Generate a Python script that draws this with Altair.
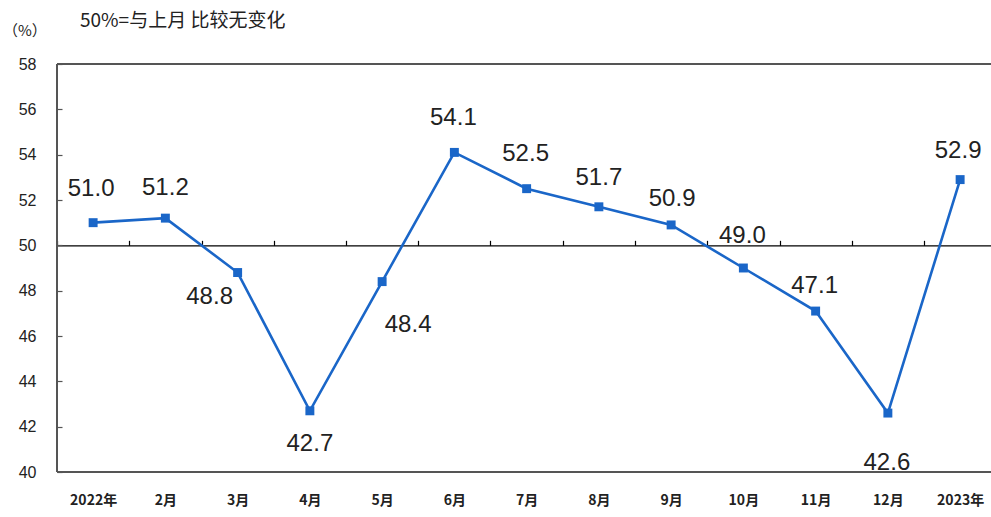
import json
import altair as alt
import pandas as pd

# ---- data ----
months = ["2022年", "2月", "3月", "4月", "5月", "6月", "7月", "8月", "9月",
          "10月", "11月", "12月", "2023年"]
values = [51.0, 51.2, 48.8, 42.7, 48.4, 54.1, 52.5, 51.7, 50.9, 49.0, 47.1, 42.6, 52.9]
y_ticks = [40, 42, 44, 46, 48, 50, 52, 54, 56, 58]
header = "50%=与上月 比较无变化"
unit = "（%）"

# label placement relative to each point (dx, dy) in pixels
label_offsets = [(-2, -34), (0, -30), (-28, 24), (0, 33), (26, 43), (-1, -34),
                 (-1, -35), (0, -29), (1, -26), (-1, -32), (-1, -25), (-1, 50), (-2, -29)]

df = pd.DataFrame({"i": list(range(len(months))), "month": months, "value": values})
df["label"] = [f"{v:.1f}" for v in values]

W, H = 934, 408
BLUE = "#1a66c8"
x_dom = [-0.5, -0.5 + W / 72.25]
y_scale = alt.Scale(domain=[40, 58], nice=False, zero=False)
x_scale = alt.Scale(domain=x_dom, nice=False, zero=False)
label_expr = json.dumps(months, ensure_ascii=False) + "[datum.value]"

base = alt.Chart(df)

line = base.mark_line(color=BLUE, strokeWidth=2.6).encode(
    x=alt.X("i:Q", scale=x_scale,
            axis=alt.Axis(orient="bottom", values=list(range(len(months))), labelExpr=label_expr,
                          ticks=False, domain=False, grid=False, title=None,
                          labelFont="Noto Sans CJK SC", labelFontSize=14, labelFontWeight="bold",
                          labelColor="#222", labelPadding=21)),
    y=alt.Y("value:Q", scale=y_scale,
            axis=alt.Axis(orient="left", values=y_ticks, ticks=False, domain=False, grid=False,
                          title=None, labelFont="Liberation Sans", labelFontSize=16,
                          labelColor="#222", labelPadding=21)),
)

points = base.mark_square(color=BLUE, size=80, opacity=1).encode(
    x=alt.X("i:Q", scale=x_scale,
            axis=alt.Axis(orient="top", offset=-(H * 8 / 18), values=[k - 0.5 for k in range(len(months) + 1)],
                          labels=False, ticks=True, tickSize=5, tickColor="#000", tickWidth=1.2,
                          domain=True, domainColor="#000", domainWidth=1.3, grid=False, title=None)),
    y=alt.Y("value:Q", scale=y_scale,
            axis=alt.Axis(orient="right", offset=-W, values=y_ticks, labels=False, ticks=True,
                          tickSize=5, tickColor="#555", tickWidth=1.2, domain=False, grid=False,
                          title=None)),
)

frame_df = pd.DataFrame({"y": [40, 58]})
frame_h = alt.Chart(frame_df).mark_rule(color="#555", strokeWidth=2).encode(
    y=alt.Y("y:Q", scale=y_scale, axis=None))
frame_v = alt.Chart(pd.DataFrame({"x": [x_dom[0]]})).mark_rule(color="#555", strokeWidth=2).encode(
    x=alt.X("x:Q", scale=x_scale, axis=None))

labels = []
for idx, (dx, dy) in enumerate(label_offsets):
    labels.append(
        base.transform_filter(alt.datum.i == idx).mark_text(
            dx=dx, dy=dy, font="Liberation Sans", fontSize=24, color="#222",
            align="center", baseline="middle").encode(
            x=alt.X("i:Q", scale=x_scale, axis=None),
            y=alt.Y("value:Q", scale=y_scale, axis=None),
            text="label:N")
    )

head_df = pd.DataFrame({"t": [header]})
head = alt.Chart(head_df).mark_text(
    align="left", baseline="middle", font="Noto Sans CJK SC", fontSize=19, color="#222").encode(
    x=alt.value(23), y=alt.value(-43), text="t:N")
unit_df = pd.DataFrame({"t": [unit]})
unit_t = alt.Chart(unit_df).mark_text(
    align="left", baseline="middle", font="Noto Sans CJK SC", fontSize=15, color="#222").encode(
    x=alt.value(-54), y=alt.value(-33), text="t:N")

chart = alt.layer(frame_h, frame_v, line, points, *labels, head, unit_t).resolve_axis(
    x="independent", y="independent").properties(
    width=W, height=H,
    autosize=alt.AutoSizeParams(type="none"),
    padding={"left": 57, "top": 64, "right": 0, "bottom": 45},
).configure_view(stroke=None)

chart.save("out.html", embed_options={"renderer": "svg", "actions": False})
